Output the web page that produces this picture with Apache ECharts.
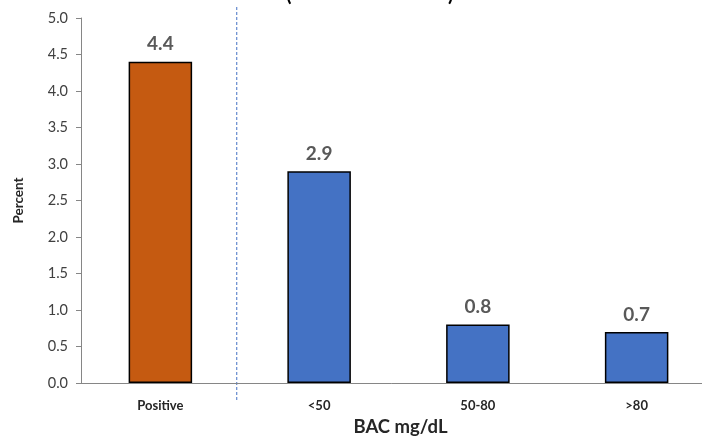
<!DOCTYPE html>
<html><head><meta charset="utf-8">
<script src="https://cdn.jsdelivr.net/npm/echarts@6/dist/echarts.min.js"></script>
<style>html,body{margin:0;padding:0;background:#fff}#c{width:702px;height:438px}</style>
</head><body><div id="c"></div>
<script>
const categories = ['Positive', '<50', '50-80', '>80'];
const values = [4.4, 2.9, 0.8, 0.7];
const barColors = ['#C55A11', '#4472C4', '#4472C4', '#4472C4'];
const yTicks = [0, 0.5, 1, 1.5, 2, 2.5, 3, 3.5, 4, 4.5, 5];
const FONT = 'Lato';

const chart = echarts.init(document.getElementById('c'));
chart.setOption({
  animation: false,
  grid: { left: 81, width: 635, top: 18, bottom: 55, containLabel: false, outerBoundsMode: 'none' },
  xAxis: {
    type: 'category', data: categories,
    name: 'BAC mg/dL', nameLocation: 'middle', nameGap: 35,
    nameTextStyle: { fontFamily: FONT, fontWeight: 'bold', fontSize: 18.5, color: '#262626', padding: [0, 0, 0, 4] },
    axisLine: { lineStyle: { color: '#868686', width: 1 } },
    axisTick: { show: false },
    axisLabel: { fontFamily: FONT, fontWeight: 'bold', fontSize: 13, color: '#262626', margin: 16 }
  },
  yAxis: {
    type: 'value', min: 0, max: 5, interval: 0.5,
    name: 'Percent', nameLocation: 'middle', nameGap: 55, nameRotate: 90,
    nameTextStyle: { fontFamily: FONT, fontWeight: 'bold', fontSize: 13.5, color: '#262626' },
    axisLine: { show: true, lineStyle: { color: '#868686', width: 1 } },
    axisTick: { show: true, length: 5, lineStyle: { color: '#868686' } },
    splitLine: { show: false },
    axisLabel: { fontFamily: FONT, fontSize: 14.5, color: '#404040', margin: 13,
      formatter: v => v.toFixed(1) }
  },
  series: [{
    type: 'bar', barWidth: '40%',
    data: values.map((v, i) => ({ value: v, itemStyle: { color: barColors[i] } })),
    itemStyle: { borderColor: '#000', borderWidth: 1.5 },
    label: { show: true, position: 'top', distance: 8, fontFamily: FONT, fontWeight: 'bold', fontSize: 19, color: '#595959',
      formatter: p => p.value.toFixed(1) }
  }]
});

const p0 = chart.convertToPixel({ xAxisIndex: 0 }, 0);
const p1 = chart.convertToPixel({ xAxisIndex: 0 }, 1);
const sepX = (p0 + p1) / 2 - 3;
chart.setOption({
  graphic: [
    { type: 'line', shape: { x1: sepX, y1: 7, x2: sepX, y2: 400 },
      style: { stroke: '#4472C4', lineWidth: 1, lineDash: [3, 2] } },
    { type: 'text', x: 286, y: -15, style: { text: '(', fontFamily: FONT, fontWeight: 'bold', fontSize: 20, fill: '#000' } },
    { type: 'text', x: 448, y: -15, style: { text: ')', fontFamily: FONT, fontWeight: 'bold', fontSize: 20, fill: '#000' } }
  ]
});
</script></body></html>
